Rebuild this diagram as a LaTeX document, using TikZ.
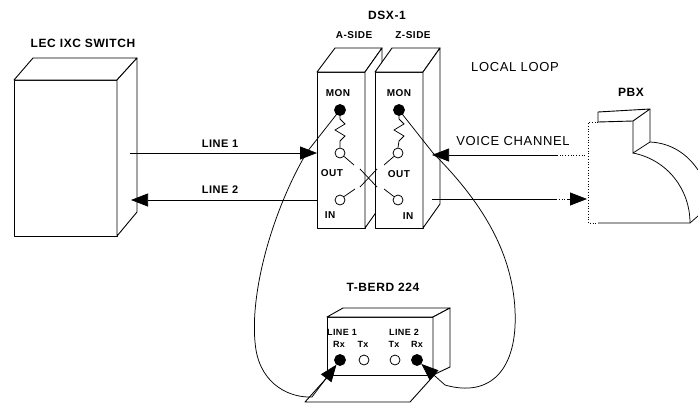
\documentclass[tikz,border=0pt]{standalone}
\usepackage{fontspec}
\setmainfont[LetterSpace=5]{Liberation Sans}
\usetikzlibrary{arrows.meta}

\begin{document}
\begin{tikzpicture}[x=1pt,y=-1pt,
  box/.style={draw,line width=0.9pt,line join=round,fill=white},
  wire/.style={line width=0.75pt},
  tip/.style={-{Triangle[length=17pt,width=13pt]}},
  big/.style={font=\bfseries\fontsize{12}{14}\selectfont,inner sep=0pt},
  plain/.style={font=\fontsize{13}{15}\selectfont,inner sep=0pt},
  small/.style={font=\bfseries\fontsize{10}{12}\selectfont,inner sep=0pt},
  tiny/.style={font=\bfseries\fontsize{9}{11}\selectfont,inner sep=0pt},
  jack/.style={circle,draw,line width=0.8pt,minimum size=10pt,inner sep=0pt,fill=white},
  hot/.style={jack,fill=black,minimum size=11pt},
]
\useasboundingbox (0,0) rectangle (698,412);

% ---------- LEC / IXC switch ----------
\draw[box] (14,80) rectangle (117,236);
\draw[box] (14,80) -- (33,58) -- (137,58) -- (117,80) -- cycle;
\draw[box] (117,80) -- (137,58) -- (137,212) -- (117,236) -- cycle;
\node[big] (swlabel) at (83,43) {LEC IXC SWITCH};
\coordinate (sw1) at (130,153);
\coordinate (sw2) at (131,200);

% ---------- DSX-1 panels ----------
\node[big] (dsx) at (387,15) {DSX-1};
\node[small] (aside) at (354,35) {A-SIDE};
\node[small] (zside) at (413,35) {Z-SIDE};
% A side
\draw[box] (317,72) rectangle (365,228);
\draw[box] (317,72) -- (335,48) -- (382,48) -- (365,72) -- cycle;
\draw[box] (365,72) -- (382,48) -- (382,204) -- (365,228) -- cycle;
% Z side
\draw[box] (375,72) rectangle (423,228);
\draw[box] (375,72) -- (392,48) -- (440,48) -- (423,72) -- cycle;
\draw[box] (423,72) -- (440,48) -- (440,204) -- (423,228) -- cycle;
\coordinate (a1) at (317,153);
\coordinate (a2) at (317,200);
\coordinate (z1) at (432,155);
\coordinate (z2) at (432,199);

\node[small] (amonl) at (338,93) {MON};
\node[small] (zmonl) at (399,93) {MON};
\node[hot] (amon) at (340,110) {};
\node[hot] (zmon) at (399,110) {};
\node[jack] (aout) at (340,153) {};
\node[jack] (ain) at (340,200) {};
\node[jack] (zout) at (398,153) {};
\node[jack] (zin) at (398,200) {};
\node[small] (aoutl) at (332,173) {OUT};
\node[small] (ainl) at (330,215) {IN};
\node[small] (zoutl) at (399,174) {OUT};
\node[small] (zinl) at (408,216) {IN};

% monitor resistors
\draw[wire] (amon.south) -- (340,119) -- (345,124) -- (335,130) -- (345,136) -- (340,141) -- (aout.north);
\draw[wire] (zmon.south) -- (399,119) -- (404,124) -- (394,130) -- (404,136) -- (399,141) -- (zout.north);
% jack contacts
\draw[wire] (aout.-40) -- (354,165);
\draw[wire] (ain.40) -- (355,189);
\draw[wire] (zout.220) -- (384,165);
\draw[wire] (zin.140) -- (384,189);
% cross-connect
\draw[wire] (360,169) -- (377,187);
\draw[wire] (360,187) -- (377,169);

% ---------- line labels ----------
\node[big,font=\bfseries\fontsize{11}{13}\selectfont] (l1) at (220,144) {LINE 1};
\node[big,font=\bfseries\fontsize{11}{13}\selectfont] (l2) at (220,190) {LINE 2};
\node[plain] (loop) at (515,67) {LOCAL LOOP};
\node[plain] (voice) at (513,141) {VOICE CHANNEL};
\node[big] (pbxl) at (631,92) {PBX};

% ---------- PBX ----------
\draw[wire,dotted] (598,122) -- (588,122) -- (588,223) -- (598,223);
\draw[wire] (598,223) -- (690,223) -- (698,216);
\draw[box] (598,112) -- (650,109) -- (633,121) -- (598,122) -- cycle;
\draw[wire] (633,121) -- (633,153) -- (650,142) -- (650,109);
\draw[wire] (633,153) .. controls (668,160) and (690,190) .. (690,223);
\draw[wire] (650,142) .. controls (672,143) and (688,155) .. (698,170);
\coordinate (p1) at (585,155);
\coordinate (q1) at (558,155);
\coordinate (q2) at (556,199);
\coordinate (q3) at (567,199);
\coordinate (p2) at (587,199);

% ---------- line connectors ----------
\draw[wire,tip] (sw1) -- (a1);
\draw[wire,tip] (a2) -- (sw2);
\draw[wire,dotted] (p1) -- (q1);
\draw[wire,tip] (q1) -- (z1);
\draw[wire] (z2) -- (q2);
\draw[wire,dotted] (q2) -- (q3);
\draw[wire,tip] (q3) -- (p2);

% ---------- T-BERD 224 ----------
\draw[box] (305,402) -- (410,402) -- (437,372) -- (332,372) -- cycle;
\draw[box] (327,317) rectangle (433,375);
\draw[box] (327,317) -- (343,308) -- (450,308) -- (433,317) -- cycle;
\draw[box] (433,317) -- (450,308) -- (450,367) -- (433,375) -- cycle;
\node[big] (tb) at (383,287) {T-BERD 224};
\node[tiny] (tl1) at (342,332) {LINE 1};
\node[tiny] (tl2) at (404,332) {LINE 2};
\node[tiny] (rxl1) at (339,344) {Rx};
\node[tiny] (txl1) at (363,344) {Tx};
\node[tiny] (txl2) at (394,344) {Tx};
\node[tiny] (rxl2) at (417,344) {Rx};
\node[hot] (rx1) at (340,360) {};
\node[jack] (tx1) at (364,360) {};
\node[jack] (tx2) at (395,360) {};
\node[hot] (rx2) at (417,360) {};

% ---------- monitor cords ----------
\draw[wire,tip] (amon.center) -- (307,152)
  .. controls (270,215) and (248,300) .. (256,350)
  .. controls (262,385) and (290,398) .. (312,397) -- (rx1);
\draw[wire,tip] (zmon.center) -- (433,153)
  .. controls (480,200) and (512,250) .. (515,310)
  .. controls (518,370) and (490,398) .. (445,385) -- (rx2);
\end{tikzpicture}
\end{document}
